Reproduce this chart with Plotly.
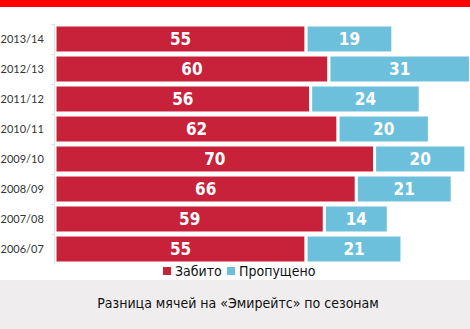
import plotly.graph_objects as go

seasons = ["2013/14", "2012/13", "2011/12", "2010/11", "2009/10", "2008/09", "2007/08", "2006/07"]
scored = [55, 60, 56, 62, 70, 66, 59, 55]
conceded = [19, 31, 24, 20, 20, 21, 14, 21]
series_names = ["Забито", "Пропущено"]
title_text = "Разница мячей на «Эмирейтс» по сезонам"

RED = "#c8213a"
BLUE = "#6dc0dc"
W, H = 470, 329
L, R, T, B = 55, 0, 24, 65
pw, ph = W - L - R, H - T - B

COND = "DejaVu Sans Condensed, sans-serif"
bar_font = dict(family=COND, size=17, color="white")

fig = go.Figure()
for vals, col, base, name in [(scored, RED, None, series_names[0]),
                              (conceded, BLUE, scored, series_names[1])]:
    fig.add_trace(go.Bar(
        y=seasons, x=vals, base=base, orientation="h", name=name,
        marker=dict(color=col, line=dict(color="white", width=3)),
        text=[f"<b>{v}</b>" for v in vals], textposition="inside",
        insidetextanchor="middle", textfont=bar_font, constraintext="none",
        showlegend=False, hoverinfo="x+y+name",
    ))

px2x = lambda p: (p - L) / pw
px2y = lambda p: 1 - (p - T) / ph

# manual legend (square swatch + label), positioned in pixels
legend_items = [(163, 173, RED, series_names[0]), (227, 237, BLUE, series_names[1])]
shapes = [
    dict(type="rect", xref="paper", yref="paper", x0=px2x(0), x1=px2x(W),
         y0=px2y(0), y1=px2y(7), fillcolor="#ff0000", line_width=0, layer="below"),
    dict(type="rect", xref="paper", yref="paper", x0=px2x(0), x1=px2x(W),
         y0=px2y(280), y1=px2y(H), fillcolor="#efeded", line_width=0, layer="below"),
]
annotations = []
for sx, tx, col, name in legend_items:
    shapes.append(dict(type="rect", xref="paper", yref="paper",
                       x0=px2x(sx), x1=px2x(sx + 8), y0=px2y(267), y1=px2y(275),
                       fillcolor=col, line_width=0))
    annotations.append(dict(text=name, xref="paper", yref="paper",
                            x=px2x(tx), y=px2y(271), xanchor="left", yanchor="middle",
                            showarrow=False,
                            font=dict(family=COND, size=14, color="#111111")))

fig.update_layout(
    width=W, height=H,
    margin=dict(l=L, r=R, t=T, b=B),
    paper_bgcolor="white", plot_bgcolor="white",
    barmode="overlay", bargap=0.06, showlegend=False,
    xaxis=dict(range=[0, 90.9], visible=False, fixedrange=True),
    yaxis=dict(
        categoryorder="array", categoryarray=seasons, autorange="reversed",
        showline=True, linecolor="#e2e2e2", linewidth=1,
        ticks="outside", tickson="boundaries", ticklen=3, tickcolor="#e2e2e2",
        tickfont=dict(family="Lato", size=11, color="#333333"),
        ticklabelstandoff=8,
        showgrid=False, zeroline=False,
    ),
    title=dict(
        text=title_text, xref="paper", x=px2x(238), xanchor="center",
        yref="container", y=1 - 303 / H, yanchor="middle",
        font=dict(family=COND, size=14, color="#111111"),
    ),
    shapes=shapes,
    annotations=annotations,
)

fig.write_html("out.html")
